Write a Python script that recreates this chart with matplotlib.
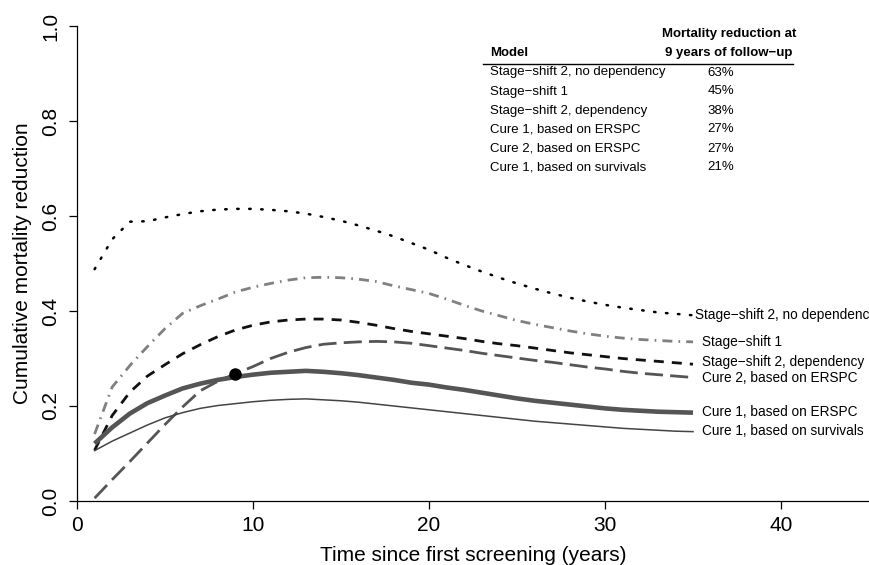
import matplotlib
matplotlib.use("Agg")
import matplotlib.pyplot as plt
from matplotlib.lines import Line2D

years = list(range(1, 36))

# cumulative mortality reduction per model (years 1..35)
ss2_no_dep = [0.488, 0.551, 0.588, 0.589, 0.597, 0.604, 0.610, 0.6135, 0.615, 0.615,
              0.613, 0.610, 0.605, 0.598, 0.590, 0.580, 0.569, 0.557, 0.543, 0.529,
              0.512, 0.497, 0.483, 0.470, 0.458, 0.447, 0.437, 0.428, 0.420, 0.413,
              0.407, 0.402, 0.397, 0.394, 0.391]
ss1 = [0.141, 0.240, 0.285, 0.325, 0.363, 0.395, 0.411, 0.425, 0.440, 0.450,
       0.458, 0.465, 0.470, 0.471, 0.470, 0.467, 0.462, 0.453, 0.445, 0.437,
       0.425, 0.412, 0.400, 0.390, 0.380, 0.372, 0.365, 0.358, 0.352, 0.347,
       0.343, 0.340, 0.338, 0.336, 0.335]
ss2_dep = [0.107, 0.180, 0.229, 0.263, 0.287, 0.310, 0.329, 0.346, 0.360, 0.370,
           0.377, 0.381, 0.383, 0.383, 0.381, 0.376, 0.370, 0.363, 0.357, 0.352,
           0.347, 0.342, 0.336, 0.331, 0.327, 0.322, 0.317, 0.312, 0.308, 0.304,
           0.300, 0.297, 0.294, 0.291, 0.288]
cure2_erspc = [0.006, 0.045, 0.083, 0.122, 0.161, 0.198, 0.232, 0.252, 0.268, 0.283,
               0.300, 0.313, 0.323, 0.330, 0.333, 0.335, 0.336, 0.335, 0.332, 0.327,
               0.322, 0.317, 0.311, 0.306, 0.301, 0.296, 0.292, 0.287, 0.282, 0.278,
               0.273, 0.269, 0.266, 0.263, 0.260]
cure1_erspc = [0.121, 0.155, 0.184, 0.206, 0.222, 0.237, 0.247, 0.255, 0.261, 0.266,
               0.270, 0.272, 0.274, 0.272, 0.269, 0.265, 0.260, 0.255, 0.249, 0.245,
               0.239, 0.234, 0.228, 0.222, 0.216, 0.211, 0.207, 0.203, 0.199, 0.195,
               0.192, 0.190, 0.188, 0.187, 0.186]
cure1_surv = [0.106, 0.126, 0.143, 0.160, 0.175, 0.186, 0.195, 0.201, 0.205, 0.209,
              0.212, 0.214, 0.215, 0.213, 0.211, 0.208, 0.204, 0.200, 0.196, 0.192,
              0.188, 0.184, 0.180, 0.176, 0.172, 0.168, 0.165, 0.162, 0.159, 0.156,
              0.153, 0.151, 0.149, 0.147, 0.146]

# observed point (ERSPC, 9 years)
obs_x = [9]
obs_y = [0.268]

# table
models = ["Stage\u2212shift 2, no dependency", "Stage\u2212shift 1",
          "Stage\u2212shift 2, dependency", "Cure 1, based on ERSPC",
          "Cure 2, based on ERSPC", "Cure 1, based on survivals"]
reductions = ["63%", "45%", "38%", "27%", "27%", "21%"]

# right-hand curve labels
end_labels = ["Stage\u2212shift 2, no dependency", "Stage\u2212shift 1",
              "Stage\u2212shift 2, dependency", "Cure 2, based on ERSPC",
              "Cure 1, based on ERSPC", "Cure 1, based on survivals"]
end_label_y = [0.392, 0.335, 0.292, 0.260, 0.188, 0.148]

xticks = [0, 10, 20, 30, 40]
yticks = [0.0, 0.2, 0.4, 0.6, 0.8, 1.0]

W, H = 870, 565


def fx(px):
    return px / W


def fy(py):
    return 1 - py / H


plt.rcParams["font.family"] = ["Liberation Sans", "DejaVu Sans"]

fig = plt.figure(figsize=(8.7, 5.65), dpi=100)
ax = fig.add_axes([fx(77), fy(501), fx(870) - fx(77), fy(26) - fy(501)])

ax.plot(years, ss2_no_dep, color="black", lw=1.8, linestyle=(0, (0.6, 4.2)),
        dash_capstyle="round")
ax.plot(years, ss1, color="#808080", lw=2.0, linestyle=(0, (3.6, 2.2, 0.6, 2.2)))
ax.plot(years, ss2_dep, color="#111111", lw=2.0, linestyle=(0, (3.6, 2.9)))
ax.plot(years, cure2_erspc, color="#555555", lw=2.0, linestyle=(0, (6.5, 2.6)))
ax.plot(years, cure1_erspc, color="#555555", lw=3.3, solid_capstyle="butt")
ax.plot(years, cure1_surv, color="#444444", lw=1.1)
ax.plot(obs_x, obs_y, "o", color="black", markersize=8)

label_x = [35.1, 35.5, 35.5, 35.5, 35.5, 35.5]
for lx, ly, txt in zip(label_x, end_label_y, end_labels):
    ax.text(lx, ly, txt, fontsize=9.8, ha="left", va="center")

ax.set_xlim(0, (870 - 77) / 17.6)
ax.set_ylim(0, 1.0)
ax.spines["top"].set_visible(False)
ax.spines["right"].set_visible(False)
ax.spines["left"].set_bounds(0, 1)
ax.spines["left"].set_linewidth(0.9)
ax.spines["bottom"].set_linewidth(0.9)

ax.set_xticks(xticks)
ax.set_xticklabels([str(t) for t in xticks], fontsize=15)
ax.set_yticks(yticks)
ax.set_yticklabels(["%.1f" % t for t in yticks], fontsize=15, rotation=90, va="center")
ax.tick_params(direction="out", length=5.8, width=0.9, pad=5)
ax.tick_params(axis="y", pad=6)

ax.set_xlabel("Time since first screening (years)", fontsize=15, labelpad=8)
ax.set_ylabel("Cumulative mortality reduction", fontsize=15, labelpad=7)

# table in the top right corner
fig.text(fx(729), fy(34), "Mortality reduction at", fontsize=9.5,
         fontweight="bold", ha="center", va="center")
fig.text(fx(729), fy(53), "9 years of follow\u2212up", fontsize=9.5,
         fontweight="bold", ha="center", va="center")
fig.text(fx(490), fy(53), "Model", fontsize=9.5, fontweight="bold",
         ha="left", va="center")
fig.add_artist(Line2D([fx(483), fx(793)], [fy(63.5), fy(63.5)],
                      transform=fig.transFigure, color="black", lw=1.0))
for i, (m, r) in enumerate(zip(models, reductions)):
    y = 72.5 + 19 * i
    fig.text(fx(490), fy(y), m, fontsize=9.5, ha="left", va="center")
    fig.text(fx(721), fy(y), r, fontsize=9.5, ha="center", va="center")

fig.savefig("out.png", dpi=100)
